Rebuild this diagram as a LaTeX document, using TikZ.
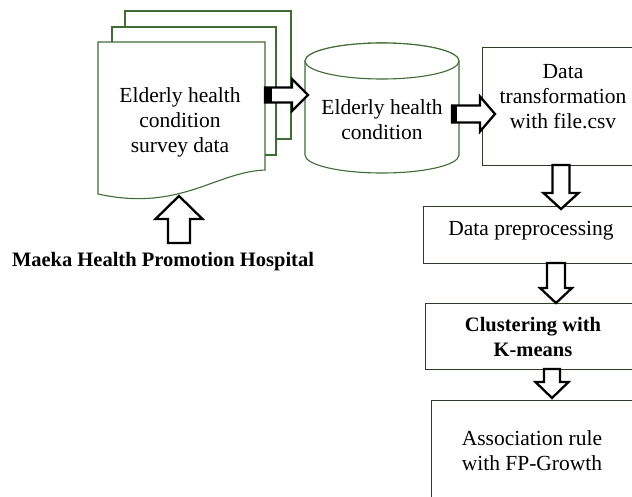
\documentclass[tikz,border=0pt]{standalone}
\usepackage{fontspec}
\setmainfont{Liberation Serif}
\usetikzlibrary{calc}
\definecolor{docgreen}{HTML}{3F6B35}
\definecolor{boxline}{HTML}{2E3A2A}
\tikzset{
  pg/.style={draw=docgreen, line width=1.1pt, fill=white},
  box/.style={draw=boxline, line width=1.2pt, fill=white, anchor=north west, inner sep=0pt},
  txt/.style={align=center, font=\fontsize{21.5}{25}\selectfont, inner sep=0pt},
  btxt/.style={align=center, font=\fontsize{20.5}{24.5}\selectfont\bfseries, inner sep=0pt},
  barrow/.style={draw=black, line width=2.3pt, fill=white, line join=miter},
}
% horizontal block arrow: start, tip, stem half, head half, head length
\newcommand\harrow[5]{%
  \draw[barrow] ($(#1)+(0,#3)$) -- ($(#2)+(-#5,#3)$) -- ($(#2)+(-#5,#4)$) -- (#2)
    -- ($(#2)+(-#5,-#4)$) -- ($(#2)+(-#5,-#3)$) -- ($(#1)+(0,-#3)$) -- cycle;}
% vertical (downward) block arrow
\newcommand\varrow[5]{%
  \draw[barrow] ($(#1)+(-#3,0)$) -- ($(#2)+(-#3,#5)$) -- ($(#2)+(-#4,#5)$) -- (#2)
    -- ($(#2)+(#4,#5)$) -- ($(#2)+(#3,#5)$) -- ($(#1)+(#3,0)$) -- cycle;}
\begin{document}
\begin{tikzpicture}[x=1pt,y=1pt]
\clip (0,0) rectangle (632,-496);
\fill[white] (0,0) rectangle (632,-496);

% stacked document pages
\draw[pg] (125,-11) rectangle (291,-139);
\draw[pg] (112,-27) rectangle (276,-155);
\draw[pg] (98,-42) -- (265,-42) -- (265,-170)
   .. controls (215,-172) and (180,-212) .. (98,-194) -- cycle;
\node[txt] (doc) at (180,-122) {Elderly health\\condition\\survey data};

% cylinder
\draw[pg] (305,-61) -- (305,-155) arc[start angle=180,end angle=360,x radius=77,y radius=18]
   -- (459,-61) arc[start angle=0,end angle=180,x radius=77,y radius=18] -- cycle;
\draw[pg] (382,-61) ellipse[x radius=77,y radius=18];
\node[txt] (db) at (382,-120) {Elderly health\\condition};

% boxes
\node[box, minimum width=152pt, minimum height=118pt] (tr) at (482,-47) {};
\node[txt] (trt) at (563,-97) {Data\\transformation\\with file.csv};
\node[box, minimum width=211pt, minimum height=57pt] (pre) at (423,-206) {};
\node[txt] (pret) at (531,-231) {Data preprocessing};
\node[box, minimum width=209pt, minimum height=66pt] (clu) at (425,-303) {};
\node[btxt] (clut) at (533,-337) {Clustering with\\K-means};
\node[box, minimum width=203pt, minimum height=97pt] (ass) at (431,-400) {};
\node[txt] (asst) at (532,-451) {Association rule\\with FP-Growth};

% source label
\node[btxt] (src) at (163,-262) {Maeka Health Promotion Hospital};

% connectors
\coordinate (a1s) at (265,-95);  \coordinate (a1t) at (308,-95);
\harrow{a1s}{a1t}{7.5}{16}{16}
\fill[black] (265,-87.5) rectangle (272,-102.5);

\coordinate (a2s) at (452,-114); \coordinate (a2t) at (495,-114);
\harrow{a2s}{a2t}{8.5}{17.5}{15}
\fill[black] (452,-105.5) rectangle (457,-122.5);

\coordinate (a3s) at (561,-165); \coordinate (a3t) at (561,-209);
\varrow{a3s}{a3t}{8.5}{17.5}{16}
\coordinate (a4s) at (556,-263); \coordinate (a4t) at (556,-303);
\varrow{a4s}{a4t}{9}{16}{15}
\coordinate (a5s) at (552,-369); \coordinate (a5t) at (552,-398);
\varrow{a5s}{a5t}{8}{16.5}{16}

% up arrow from source to documents
\coordinate (ups) at (179,-243); \coordinate (upt) at (179,-196);
\draw[barrow] ($(ups)+(-11,0)$) -- ($(upt)+(-11,-23)$) -- ($(upt)+(-23.5,-23)$) -- (upt)
   -- ($(upt)+(23.5,-23)$) -- ($(upt)+(11,-23)$) -- ($(ups)+(11,0)$) -- cycle;
\end{tikzpicture}
\end{document}
